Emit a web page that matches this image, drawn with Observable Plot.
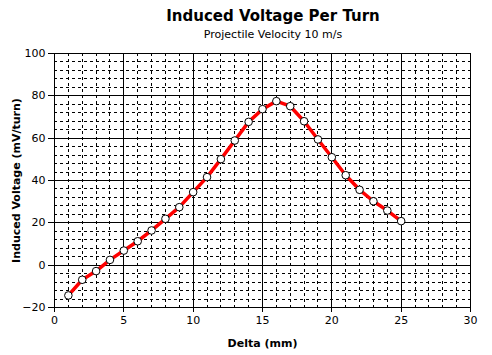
<!DOCTYPE html>
<html>
<head>
<meta charset="utf-8">
<script src="https://cdn.jsdelivr.net/npm/d3@7"></script>
<script src="https://cdn.jsdelivr.net/npm/@observablehq/plot@0.6"></script>
<style>
  html, body { margin: 0; padding: 0; background: #fff; }
  #wrap { width: 492px; height: 355px; position: relative; font-family: "DejaVu Sans", Verdana, sans-serif; }
  #title { position: absolute; left: 0; width: 546px; top: 7px; text-align: center; font-weight: bold; font-size: 15px; color: #000; }
  #subtitle { position: absolute; left: 0; width: 546px; top: 28px; text-align: center; font-size: 11px; color: #000; }
  #chart { position: absolute; left: 0; top: 45px; }
  #chart svg { font-family: "DejaVu Sans", Verdana, sans-serif; font-size: 11px; }
  #chart g[aria-label="x-axis label"] text, #chart g[aria-label="y-axis label"] text { font-weight: bold; font-size: 11px; }
  #chart g[aria-label="x-grid"], #chart g[aria-label="y-grid"], #chart g[aria-label="frame"], #chart g[aria-label="x-axis tick"], #chart g[aria-label="y-axis tick"] { shape-rendering: crispEdges; }
</style>
</head>
<body>
<div id="wrap">
  <div id="title">Induced Voltage Per Turn</div>
  <div id="subtitle">Projectile Velocity 10 m/s</div>
  <div id="chart"></div>
</div>
<script>
const delta = [1, 2, 3, 4, 5, 6, 7, 8, 9, 10, 11, 12, 13, 14, 15, 16, 17, 18, 19, 20, 21, 22, 23, 24, 25];
const voltage = [-14.3, -6.9, -2.8, 2.5, 6.9, 11.3, 16.4, 21.9, 27.4, 34.5, 41.6, 50.1, 58.9, 67.7, 73.7, 77.5, 75.1, 68.0, 59.4, 51.0, 42.5, 35.6, 30.2, 25.8, 20.8];
const xMajorTicks = [0, 5, 10, 15, 20, 25, 30];
const yMajorTicks = [-20, 0, 20, 40, 60, 80, 100];
const xMinorTicks = d3.range(0, 31, 1).filter(v => v % 5 !== 0);
const yMinorTicks = d3.range(-20, 101, 4).filter(v => v % 20 !== 0);

const data = delta.map((d, i) => ({delta: d, voltage: voltage[i]}));

const chart = Plot.plot({
  width: 492,
  height: 310,
  marginTop: 8,
  marginBottom: 48,
  marginLeft: 54,
  marginRight: 22,
  style: {background: "#fff", color: "#000"},
  x: {domain: [0, 30]},
  y: {domain: [-20, 100]},
  marks: [
    Plot.gridX(xMinorTicks, {stroke: "#000", strokeOpacity: 1, strokeDasharray: "3,3"}),
    Plot.gridY(yMinorTicks, {stroke: "#000", strokeOpacity: 1, strokeDasharray: "3,3"}),
    Plot.gridX(xMajorTicks, {stroke: "#000", strokeOpacity: 1}),
    Plot.gridY(yMajorTicks, {stroke: "#000", strokeOpacity: 1}),
    Plot.frame({stroke: "#000"}),
    Plot.axisX(xMajorTicks, {tickSize: 5, tickPadding: 4, label: "Delta (mm)", labelAnchor: "center", labelArrow: "none", labelOffset: 39}),
    Plot.axisY(yMajorTicks, {tickSize: 6, tickPadding: 3, label: "Induced Voltage (mV/turn)", labelAnchor: "center", labelArrow: "none", labelOffset: 42}),
    Plot.line(data, {x: "delta", y: "voltage", stroke: "red", strokeWidth: 3.5}),
    Plot.dot(data, {x: "delta", y: "voltage", r: 3.8, fill: "#fff", stroke: "#000", strokeWidth: 1})
  ]
});
document.getElementById("chart").appendChild(chart);
</script>
</body>
</html>
